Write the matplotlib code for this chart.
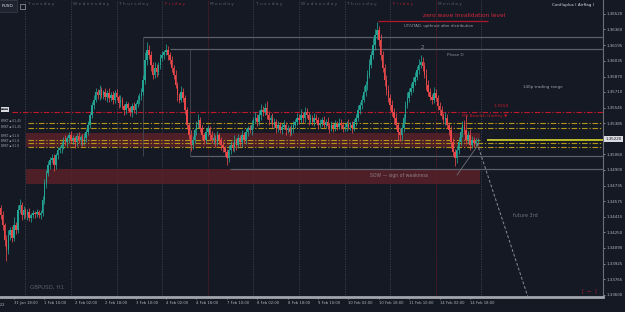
import matplotlib
matplotlib.use('Agg')
import matplotlib.pyplot as plt
import matplotlib.transforms as mtrans
from matplotlib.patches import Rectangle

BG = '#151924'
UP = '#22a394'
DOWN = '#e8484a'

# GBPUSD H1 closes, in pips above 1.3500 (bar 0 = 31 Jan 11:00)
closes = [-57, -67, -83, -93, -78, -72, -81, -67, -72, -52,
          -46, -57, -52, -57, -54, -60, -57, -55, -56, -54,
          -57, -55, -41, -24, -13, -5, 0, 2, -5, 5,
          11, 13, 16, 21, 19, 23, 26, 21, 23, 19,
          25, 21, 24, 19, 23, 29, 37, 47, 57, 63,
          71, 68, 73, 68, 71, 66, 70, 65, 68, 63,
          70, 66, 59, 63, 56, 52, 58, 54, 50, 56,
          52, 58, 63, 67, 71, 83, 104, 115, 109, 99,
          89, 96, 92, 99, 106, 109, 112, 115, 109, 104,
          96, 89, 78, 68, 63, 71, 65, 52, 37, 26,
          16, 21, 31, 37, 42, 33, 26, 21, 29, 33,
          26, 21, 23, 19, 26, 21, 16, 13, 9, 2,
          11, 16, 13, 21, 16, 23, 19, 26, 21, 29,
          33, 31, 37, 42, 44, 40, 47, 52, 50, 54,
          47, 42, 44, 37, 40, 33, 37, 31, 35, 37,
          31, 33, 29, 33, 37, 40, 44, 42, 47, 44,
          50, 47, 42, 44, 40, 44, 42, 37, 39, 42,
          37, 40, 36, 33, 37, 33, 38, 35, 39, 37,
          33, 35, 38, 35, 37, 33, 40, 44, 52, 57,
          63, 71, 78, 89, 99, 109, 120, 130, 135, 125,
          109, 96, 83, 73, 65, 57, 50, 44, 37, 29,
          26, 33, 44, 57, 65, 71, 75, 81, 87, 94,
          99, 102, 98, 89, 78, 71, 66, 63, 70, 65,
          56, 52, 46, 42, 44, 37, 31, 19, 9, 2,
          11, 19, 29, 37, 31, 21, 26, 16, 21, 18,
          20, 21]
first_open = -50
# wick length beyond the body, pips
up_wick = [3, 4, 2, 5, 6, 3, 4, 8, 3, 5,
           6, 3, 4, 2, 3, 4, 2, 3, 2, 3,
           2, 3, 4, 5, 3, 4, 3, 5, 4, 3,
           3, 2, 4, 3, 5, 2, 3, 4, 3, 2,
           3, 4, 2, 3, 5, 3, 4, 3, 4, 5,
           4, 3, 5, 3, 2, 4, 3, 5, 3, 4,
           3, 4, 2, 5, 3, 2, 4, 3, 2, 3,
           4, 3, 5, 3, 4, 6, 8, 8, 5, 4,
           3, 6, 4, 3, 4, 5, 3, 6, 4, 3,
           4, 3, 5, 3, 2, 6, 4, 3, 3, 2,
           5, 4, 3, 4, 6, 3, 4, 2, 5, 4,
           3, 4, 5, 3, 4, 2, 3, 4, 2, 3,
           5, 4, 3, 5, 2, 4, 3, 5, 3, 4,
           3, 4, 5, 3, 6, 4, 5, 6, 4, 5,
           8, 4, 3, 5, 4, 3, 4, 3, 4, 5,
           3, 4, 3, 5, 4, 3, 5, 4, 6, 3,
           5, 4, 3, 4, 3, 5, 4, 3, 4, 3,
           4, 3, 5, 3, 4, 3, 4, 3, 5, 4,
           3, 4, 3, 5, 3, 4, 3, 4, 5, 4,
           5, 6, 4, 5, 6, 5, 7, 6, 9, 5,
           6, 5, 4, 6, 5, 4, 6, 4, 5, 3,
           4, 5, 4, 5, 6, 4, 5, 6, 5, 4,
           6, 7, 5, 4, 6, 5, 4, 3, 6, 4,
           3, 5, 4, 3, 6, 4, 3, 5, 4, 3,
           4, 5, 6, 4, 5, 16, 4, 6, 4, 3,
           3, 2]
down_wick = [4, 5, 6, 12, 4, 5, 4, 3, 5, 4,
             3, 5, 4, 3, 5, 3, 4, 3, 4, 3,
             3, 4, 3, 4, 5, 3, 4, 3, 6, 4,
             4, 3, 5, 4, 3, 4, 5, 3, 4, 6,
             4, 3, 5, 4, 3, 4, 3, 4, 3, 4,
             3, 4, 5, 3, 4, 3, 5, 4, 3, 5,
             4, 3, 5, 4, 3, 5, 4, 3, 4, 5,
             3, 4, 3, 5, 4, 3, 4, 5, 4, 6,
             5, 4, 6, 3, 4, 3, 4, 3, 5, 4,
             4, 5, 3, 6, 4, 3, 5, 4, 5, 4,
             6, 4, 3, 5, 3, 4, 5, 4, 3, 4,
             5, 3, 4, 5, 3, 4, 5, 4, 5, 7,
             4, 5, 3, 4, 5, 3, 4, 5, 3, 4,
             4, 3, 5, 4, 3, 4, 3, 5, 4, 3,
             4, 5, 3, 4, 3, 5, 4, 3, 4, 3,
             5, 3, 4, 3, 5, 4, 3, 4, 3, 5,
             4, 3, 5, 4, 3, 4, 3, 5, 4, 3,
             4, 3, 4, 5, 3, 4, 3, 4, 3, 5,
             4, 3, 5, 3, 4, 5, 3, 4, 3, 4,
             4, 3, 4, 5, 4, 3, 4, 5, 4, 6,
             5, 4, 6, 5, 4, 5, 4, 6, 5, 8,
             6, 5, 4, 5, 3, 4, 3, 4, 3, 4,
             4, 3, 5, 4, 5, 4, 3, 5, 4, 3,
             4, 5, 3, 4, 5, 4, 5, 6, 5, 8,
             5, 4, 3, 5, 4, 4, 3, 5, 3, 4,
             3, 3]

price_ticks = [1.36520, 1.36360, 1.36195, 1.36035, 1.35870, 1.35710, 1.35545,
               1.35385, 1.35060, 1.34900, 1.34735, 1.34575, 1.34415, 1.34250,
               1.34090, 1.33925, 1.33765, 1.33600]
last_price = 1.35220

time_idx = [7, 23, 39, 55, 71, 87, 103, 119, 135, 151, 167, 183, 199, 215, 231, 247]
time_labels = ['31 Jan 18:00', '1 Feb 10:00', '2 Feb 02:00', '2 Feb 18:00',
               '3 Feb 10:00', '4 Feb 02:00', '4 Feb 18:00', '7 Feb 10:00',
               '8 Feb 02:00', '8 Feb 18:00', '9 Feb 10:00', '10 Feb 02:00',
               '10 Feb 18:00', '11 Feb 10:00', '14 Feb 02:00', '14 Feb 18:00']

day_idx = [13, 37, 61, 85, 109, 133, 157, 181, 205, 229, 253]
day_names = ['Tuesday', 'Wednesday', 'Thursday', 'Friday', 'Monday', 'Tuesday',
             'Wednesday', 'Thursday', 'Friday', 'Monday', '']

# levels drawn on the chart
zero_wave = 1.36447
range_top = [1.36281, 1.36156]
level_1355 = 1.35501
fib_levels = [1.35387, 1.35335, 1.35210, 1.35180, 1.35133]
range_low = [1.35044, 1.34909]
supply_zone = (1.35137, 1.35283)
sow_zone = (1.34753, 1.34909)

base = 1.35
opens = [first_open] + closes[:-1]
n = len(closes)

fig = plt.figure(figsize=(6.25, 3.12), dpi=100, facecolor=BG)
ax = fig.add_axes([0, 15 / 312, 603 / 625, 297 / 312], facecolor=BG)
ax.set_xlim(-0.37, 317.0)
ax.set_ylim(1.33579, 1.36665)
top = mtrans.blended_transform_factory(ax.transData, ax.transAxes)

# day separators + names
for d, name in zip(day_idx, day_names):
    col = '#701b26' if name == 'Monday' else '#3d4250'
    ax.axvline(d, color=col, lw=0.6, ls=(0, (1.5, 1.5)), zorder=1)
    if name:
        ax.text(d + 1.3, 0.985, ' '.join(name), transform=top, fontsize=3.1,
                color='#a3202c' if name == 'Friday' else '#5b606e',
                va='center', ha='left')

# zones
for lo, hi in [supply_zone, sow_zone]:
    ax.add_patch(Rectangle((13.5, lo), 252.5 - 13.5, hi - lo, facecolor='#5a2129',
                           edgecolor='none', alpha=0.85, zorder=1))

# gray structure lines
gcol = '#5c5f68'
ax.hlines(range_top[0], 74.9, 317, color=gcol, lw=0.9, zorder=2)
ax.hlines(range_top[1], 89.1, 317, color=gcol, lw=0.9, zorder=2)
ax.vlines(74.9, range_low[0], range_top[0], color='#474a52', lw=0.6, zorder=2)
ax.hlines(range_low[0], 99.6, 317, color=gcol, lw=0.9, zorder=2)
ax.hlines(range_low[1], 120.7, 317, color=gcol, lw=0.9, zorder=2)
ax.vlines(99.6, range_low[0], range_top[1], color='#474a52', lw=0.6, zorder=2)

# dash-dot levels
dd = (0, (5, 1.6, 1.2, 1.6))
ax.hlines(level_1355, 6, 317, color='#c01a2a', lw=0.8, ls=dd, zorder=2)
for lv in fib_levels:
    x_end = 252 if lv == fib_levels[2] else 317
    ax.hlines(lv, 14.5, x_end, color='#b09518', lw=0.8, ls=dd, zorder=2)
ax.hlines(fib_levels[2], 256, 317, color='#c9c62a', lw=1.3, zorder=2)

# zero wave line
ax.hlines(zero_wave, 198.6, 256.5, color='#b0182c', lw=0.9, zorder=2)

# candles
for i in range(n):
    o = base + opens[i] / 1e4
    c = base + closes[i] / 1e4
    col = UP if c >= o else DOWN
    hi = max(o, c) + up_wick[i] / 1e4
    lo = min(o, c) - down_wick[i] / 1e4
    ax.vlines(i, lo, hi, color=col, lw=0.55, zorder=3)
    h = max(abs(c - o), 0.00002)
    ax.bar(i, h, bottom=min(o, c), width=0.78, color=col, edgecolor='none', zorder=3)

# projection lines
ax.plot([250.7, 277.5], [1.35179, 1.33579], color='#8a8d94', lw=0.7,
        ls=(0, (3, 2)), zorder=3)
ax.plot([240.2, 251.2], [1.34847, 1.35158], color='#6d7078', lw=0.6, zorder=3)

# annotations
ax.text(222, 1.36505, 'zero wave invalidation level', color='#d4283a', fontsize=4.2,
        ha='left', va='center', zorder=4)
ax.text(212, 1.36395, 'UT/UTAD- upthrust after distribution', color='#9a9ea6',
        fontsize=2.7, ha='left', va='center', zorder=4)
ax.text(222, 1.36175, '2', color='#8a8e96', fontsize=4, ha='center', va='center', zorder=4)
ax.text(235, 1.36095, 'Phase D', color='#8a8e96', fontsize=3, ha='left', va='center', zorder=4)
ax.text(275, 1.35760, '140p trading range', color='#9a9ea6', fontsize=3,
        ha='left', va='center', zorder=4)
ax.text(259.5, 1.35565, '1.3550', color='#c01a2a', fontsize=3.2, ha='left',
        va='center', zorder=4)
ax.text(243, 1.35460, 'M5 Bearish Gartley \u25bc', color='#c01a2a', fontsize=3.1,
        ha='left', va='center', zorder=4)
ax.text(194.5, 1.34837, 'SOW \u2014 sign of weakness', color='#8d7f82', fontsize=3.3,
        ha='left', va='center', zorder=4)
ax.text(269.6, 1.34430, 'future 3rd', color='#6f737b', fontsize=3.5,
        ha='left', va='center', zorder=4)
ax.text(15.4, 1.33680, 'GBPUSD, H1', color='#5c606a', fontsize=4,
        ha='left', va='center', zorder=4)
ax.text(306, 1.33640, '[  \u2212  ]', color='#b51c2a', fontsize=3.6,
        ha='left', va='center', zorder=4)

# small left-edge level labels
ax.text(0.2, 1.35530, '\u25aa\u25aa\u25aa\u25aa', color='#151924', fontsize=2.2,
        ha='left', va='center', zorder=5,
        bbox=dict(boxstyle='square,pad=0.1', facecolor='#d8dae0', edgecolor='none'))
for lv, txt in zip([1.35405, 1.35350, 1.35250, 1.35200, 1.35150],
                   ['BRKT \u25aa 61.45', 'BRKT \u25aa 61.45', 'BRKT \u25aa 61.8',
                    'BRKT \u25aa 61.8', 'BRKT \u25aa 61.8']):
    ax.text(0.2, lv, txt, color='#9a9ea8', fontsize=2.2, ha='left', va='center', zorder=5)

# axes styling
ax.yaxis.tick_right()
ax.set_yticks(price_ticks)
ax.set_yticklabels(['%.5f' % p for p in price_ticks])
ax.set_xticks(time_idx)
ax.set_xticklabels(time_labels)
for lab in ax.get_xticklabels():
    lab.set_ha('left')
ax.tick_params(axis='y', labelsize=2.9, colors='#b2b5be', length=1.5, width=0.5, pad=1.2)
ax.tick_params(axis='x', labelsize=2.7, colors='#b2b5be', length=1.5, width=0.5,
               pad=1.5, direction='out')
ax.text(1.004, last_price, '%.5f' % last_price, transform=mtrans.blended_transform_factory(
        ax.transAxes, ax.transData), fontsize=2.9, color='#151924', ha='left', va='center',
        bbox=dict(boxstyle='square,pad=0.25', facecolor='#d9dbe0', edgecolor='none'))
for s in ['top', 'left']:
    ax.spines[s].set_visible(False)
ax.spines['right'].set_color('#6b6e77')
ax.spines['right'].set_linewidth(0.8)
ax.spines['bottom'].set_color('#a2a5ad')
ax.spines['bottom'].set_linewidth(2)

# header widgets (symbol box is cut at the left edge, as on the screen)
fig.text(13 / 625, 1 - 6 / 312, 'PUSD', fontsize=3.2, color='#d8dae0', ha='right',
         va='center', bbox=dict(boxstyle='square,pad=0.9', facecolor='#1f2330',
                                edgecolor='#3b3f4b', lw=0.5))
fig.patches.append(Rectangle((20 / 625, 1 - 9 / 312), 5 / 625, 5 / 312, transform=fig.transFigure,
                             facecolor='none', edgecolor='#9a9ea8', lw=0.5))
fig.text(552 / 625, 1 - 5 / 312, 'Confluplus ( Airflag )', fontsize=3, color='#d8dae0',
         ha='left', va='center')
fig.text(-18 / 625, 1 - 305 / 312, '31 Jan 2022', fontsize=2.7, color='#b2b5be',
         ha='left', va='center')

fig.savefig('out.png', dpi=100, facecolor=BG)
